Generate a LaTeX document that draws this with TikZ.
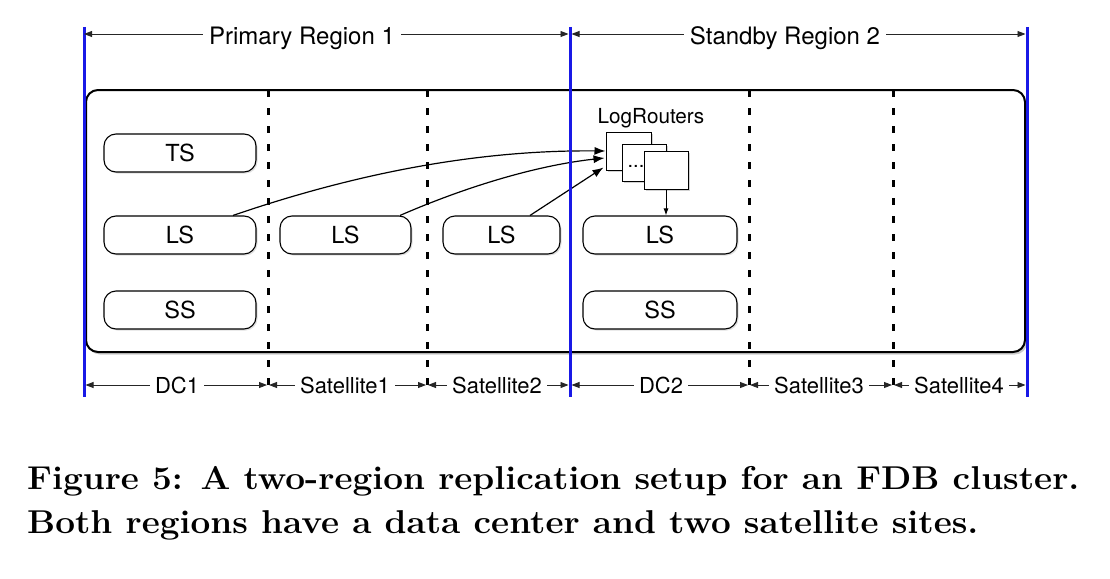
\documentclass[tikz,border=0pt]{standalone}
\usepackage{fontspec}
\setsansfont{TeX Gyre Heros}
\usetikzlibrary{arrows.meta,shadows,calc}
\definecolor{regblue}{RGB}{25,25,230}
\tikzset{
  blueline/.style={draw=regblue,line width=3pt},
  sitesep/.style={draw=black,line width=3pt,dash pattern=on 7pt off 11pt},
  server/.style={draw=black,rounded corners=12pt,line width=1.1pt,fill=white,
    minimum height=38pt,inner sep=0pt,
    font=\sffamily\fontsize{23.5}{27}\selectfont,
    drop shadow={shadow xshift=1.5pt,shadow yshift=-1.5pt,opacity=0.25}},
  routerbox/.style={draw=black,line width=1pt,fill=white,inner sep=0pt,
    drop shadow={shadow xshift=1.5pt,shadow yshift=-1.5pt,opacity=0.35}},
  dimlab/.style={font=\sffamily\fontsize{22}{26}\selectfont,inner sep=5pt,anchor=base},
  reglab/.style={font=\sffamily\fontsize{24}{28}\selectfont,inner sep=6pt,anchor=base},
  dimarr/.style={draw=black!85,line width=0.9pt,-{Triangle[length=8pt,width=6pt]}},
  flow/.style={draw=black,line width=1.2pt,-{Latex[length=11pt,width=8pt]}},
  capline/.style={anchor=base west,inner sep=0pt}
}
\begin{document}
\begin{tikzpicture}[x=1pt,y=-1pt]
\useasboundingbox (0,0) rectangle (1110,578);

% cluster frame
\draw[line width=2pt,rounded corners=12pt,fill=white,
  drop shadow={shadow xshift=2pt,shadow yshift=-2.5pt,opacity=0.4}]
  (86,90) rectangle (1025,352);

% site separators
\foreach \x in {268,427,749,893}
  \draw[sitesep] (\x,90) -- (\x,395);

% servers
\node[server,minimum width=152pt] (ts1) at (180,153) {TS};
\node[server,minimum width=152pt] (ls1) at (180,235) {LS};
\node[server,minimum width=152pt] (ss1) at (180,310) {SS};
\node[server,minimum width=131pt] (lsa) at (345.5,235) {LS};
\node[server,minimum width=117pt] (lsb) at (501.5,235) {LS};
\node[server,minimum width=154pt] (ls2) at (660,235) {LS};
\node[server,minimum width=154pt] (ss2) at (660,310) {SS};

% log routers
\node[font=\sffamily\fontsize{20.7}{24}\selectfont,inner sep=0pt] (lrlabel) at (651,118) {LogRouters};
\node[routerbox,minimum width=45pt,minimum height=38pt] (lr1) at (628.5,151) {};
\node[routerbox,minimum width=44pt,minimum height=37pt] (lr2) at (644,162.5) {};
\node[font=\sffamily\fontsize{20}{24}\selectfont,inner sep=0pt] (dots) at (636,166) {...};
\node[routerbox,minimum width=44pt,minimum height=38pt] (lr3) at (666,170) {};

% replication flows
\draw[flow] ($(ls1.north)+(53,0)$) .. controls (380,165) and (500,150) .. (lr1.west);
\draw[flow] ($(lsa.north)+(54.5,0)$) .. controls (470,185) and (540,165) .. ($(lr1.west)+(-1,7)$);
\draw[flow] ($(lsb.north)+(28.5,0)$) -- ($(lr1.south west)+(-2,-3)$);
\draw[draw=black,line width=1pt,-{Latex[length=7pt,width=5pt]}] (lr3.south) -- (lr3.south |- ls2.north);

% region boundaries
\coordinate (b1) at (84,34);
\coordinate (b2) at (570,34);
\coordinate (b3) at (1027,34);
\draw[blueline] (84,27) -- (84,397);
\draw[blueline] (570,27) -- (570,397);
\draw[blueline] (1027,27) -- (1027,397);

% region labels
\node[reglab] (pr) at (302,45) {Primary Region 1};
\node[reglab] (sr) at (785,45) {Standby Region 2};
\draw[dimarr] (pr.west |- b1) -- (b1);
\draw[dimarr] (pr.east |- b1) -- ($(b2)+(-1.5,0)$);
\draw[dimarr] (sr.west |- b1) -- ($(b2)+(1.5,0)$);
\draw[dimarr] (sr.east |- b1) -- ($(b3)+(-1.5,0)$);

% site labels
\coordinate (s0) at (84,385);
\coordinate (s1) at (268,385);
\coordinate (s2) at (427,385);
\coordinate (s3) at (570,385);
\coordinate (s4) at (749,385);
\coordinate (s5) at (893,385);
\coordinate (s6) at (1027,385);
\node[dimlab] (dc1) at (177,393) {DC1};
\node[dimlab] (sat1) at (345,393) {Satellite1};
\node[dimlab] (sat2) at (497,393) {Satellite2};
\node[dimlab] (dc2) at (661,393) {DC2};
\node[dimlab] (sat3) at (819,393) {Satellite3};
\node[dimlab] (sat4) at (959,393) {Satellite4};
\draw[dimarr] (dc1.west |- s0) -- ($(s0)+(1.5,0)$);
\draw[dimarr] (dc1.east |- s0) -- ($(s1)+(-1,0)$);
\draw[dimarr] (sat1.west |- s0) -- ($(s1)+(1,0)$);
\draw[dimarr] (sat1.east |- s0) -- ($(s2)+(-1,0)$);
\draw[dimarr] (sat2.west |- s0) -- ($(s2)+(1,0)$);
\draw[dimarr] (sat2.east |- s0) -- ($(s3)+(-1.5,0)$);
\draw[dimarr] (dc2.west |- s0) -- ($(s3)+(1.5,0)$);
\draw[dimarr] (dc2.east |- s0) -- ($(s4)+(-1,0)$);
\draw[dimarr] (sat3.west |- s0) -- ($(s4)+(1,0)$);
\draw[dimarr] (sat3.east |- s0) -- ($(s5)+(-1,0)$);
\draw[dimarr] (sat4.west |- s0) -- ($(s5)+(1,0)$);
\draw[dimarr] (sat4.east |- s0) -- ($(s6)+(-1.5,0)$);

% caption
\node[capline] (cap1) at (27,489) {\scalebox{1.065}[1]{\fontsize{33}{40}\selectfont\bfseries Figure 5: A two-region replication setup for an FDB cluster.}};
\node[capline] (cap2) at (27,533) {\scalebox{1.065}[1]{\fontsize{33}{40}\selectfont\bfseries Both regions have a data center and two satellite sites.}};
\end{tikzpicture}
\end{document}
